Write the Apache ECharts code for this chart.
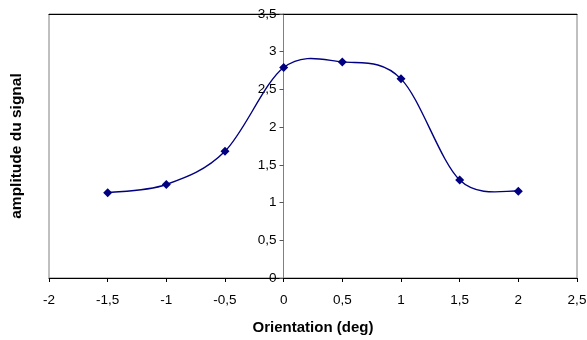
<!DOCTYPE html>
<html>
<head>
<meta charset="utf-8">
<script src="https://cdn.jsdelivr.net/npm/echarts@6/dist/echarts.min.js"></script>
<style>
html,body{margin:0;padding:0;background:#fff;}
#chart{width:587px;height:340px;}
</style>
</head>
<body>
<div id="chart"></div>
<script>
// Data
const orientation = [-1.5, -1, -0.5, 0, 0.5, 1, 1.5, 2];
const amplitude = [1.13, 1.24, 1.68, 2.79, 2.865, 2.64, 1.30, 1.15];
const xTicks = [-2, -1.5, -1, -0.5, 0, 0.5, 1, 1.5, 2, 2.5];
const yTicks = [0, 0.5, 1, 1.5, 2, 2.5, 3, 3.5];

const points = orientation.map((x, i) => [x, amplitude[i]]);
const fmt = v => String(v).replace('.', ',');
const FONT = 'Liberation Sans, Arial, sans-serif';
const NAVY = '#000080';

const chart = echarts.init(document.getElementById('chart'), null, {renderer: 'canvas'});

function renderSegment(params, api) {
  const i = params.dataIndex;
  const n = points.length;
  if (i >= n - 1) return null;
  const P = j => api.coord(points[Math.max(0, Math.min(n - 1, j))]);
  const p0 = P(i - 1), p1 = P(i), p2 = P(i + 1), p3 = P(i + 2);
  const t = 1 / 6;
  return {
    type: 'bezierCurve',
    shape: {
      x1: p1[0], y1: p1[1],
      x2: p2[0], y2: p2[1],
      cpx1: p1[0] + (p2[0] - p0[0]) * t,
      cpy1: p1[1] + (p2[1] - p0[1]) * t,
      cpx2: p2[0] - (p3[0] - p1[0]) * t,
      cpy2: p2[1] - (p3[1] - p1[1]) * t
    },
    style: {stroke: NAVY, fill: null, lineWidth: 1.4}
  };
}

chart.setOption({
  animation: false,
  backgroundColor: '#fff',
  grid: {
    left: 49, right: 10, top: 14, bottom: 62,
    show: true, borderColor: '#808080', borderWidth: 1,
    containLabel: false,
    outerBoundsMode: 'none'
  },
  xAxis: [{
    type: 'value', min: xTicks[0], max: xTicks[xTicks.length - 1], interval: 0.5,
    position: 'bottom',
    name: 'Orientation (deg)', nameLocation: 'middle', nameGap: 42,
    nameTextStyle: {fontFamily: FONT, fontWeight: 'bold', fontSize: 15, color: '#000'},
    axisLine: {onZero: false, lineStyle: {color: '#000', width: 1}},
    axisTick: {show: true, inside: false, length: 4, lineStyle: {color: '#000'}},
    axisLabel: {fontFamily: FONT, fontSize: 13.5, color: '#000', margin: 15, formatter: fmt},
    splitLine: {show: false}
  }, {
    type: 'value', min: xTicks[0], max: xTicks[xTicks.length - 1], interval: 0.5,
    position: 'top',
    axisLine: {onZero: false, lineStyle: {color: '#000', width: 1}},
    axisTick: {show: false}, axisLabel: {show: false}, splitLine: {show: false}
  }],
  yAxis: {
    type: 'value', min: yTicks[0], max: yTicks[yTicks.length - 1], interval: 0.5,
    position: 'left',
    offset: -234.5,
    name: 'amplitude du signal', nameLocation: 'middle', nameGap: 259, nameRotate: 90,
    nameTextStyle: {fontFamily: FONT, fontWeight: 'bold', fontSize: 15.5, color: '#000'},
    axisLine: {onZero: false, lineStyle: {color: '#808080', width: 1}},
    axisTick: {show: true, inside: false, length: 4, lineStyle: {color: '#555'}},
    axisLabel: {fontFamily: FONT, fontSize: 13.5, color: '#000', margin: 7, formatter: fmt},
    splitLine: {show: false}
  },
  series: [{
    type: 'custom',
    xAxisIndex: 0,
    renderItem: renderSegment,
    data: points,
    encode: {x: 0, y: 1},
    clip: false,
    silent: true,
    z: 2
  }, {
    type: 'scatter',
    xAxisIndex: 0,
    data: points,
    symbol: 'diamond',
    symbolSize: 9,
    itemStyle: {color: NAVY, opacity: 1},
    z: 3
  }]
});
</script>
</body>
</html>
